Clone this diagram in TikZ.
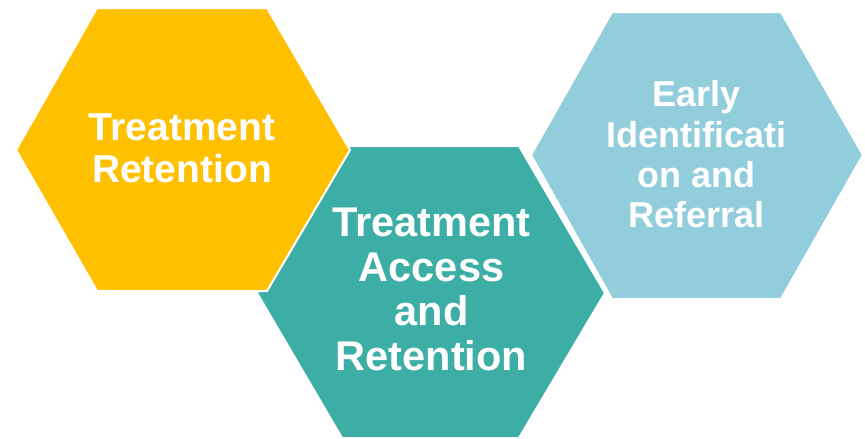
\documentclass[tikz,border=0pt]{standalone}
\usepackage{fontspec}
\setmainfont{Liberation Sans}
\definecolor{hexyellow}{HTML}{FFC000}
\definecolor{hexteal}{HTML}{3DAEA5}
\definecolor{hexblue}{HTML}{92CDDC}
\begin{document}
\begin{tikzpicture}[x=1pt,y=-1pt,
  hexshape/.style={draw=white,line width=2pt,line join=miter},
  hextext/.style={text=white,align=center,inner sep=0pt,font=\bfseries}]
\useasboundingbox (0,0) rectangle (865,439);
% light blue hexagon (back)
\fill[hexblue,hexshape] (531,155) -- (612,12) -- (781,12) -- (863,155) -- (781,299) -- (612,299) -- cycle;
% teal hexagon (middle)
\fill[hexteal,hexshape] (257,293) -- (342,146) -- (519,146) -- (605,293) -- (519,438) -- (342,438) -- cycle;
% yellow hexagon (front)
\fill[hexyellow,hexshape] (16,150) -- (97,8) -- (267,8) -- (350,150) -- (267,291) -- (97,291) -- cycle;
\node[hextext,font=\bfseries\fontsize{39}{42}\selectfont] (ret) at (182,148.5) {Treatment\\Retention};
\node[hextext,font=\bfseries\fontsize{41.5}{44.7}\selectfont] (acc) at (431.5,289.5) {Treatment\\Access\\and\\Retention};
\node[hextext,font=\bfseries\fontsize{36}{40.3}\selectfont] (early) at (696.5,154.5) {Early\\Identificati\\on and\\Referral};
\end{tikzpicture}
\end{document}
